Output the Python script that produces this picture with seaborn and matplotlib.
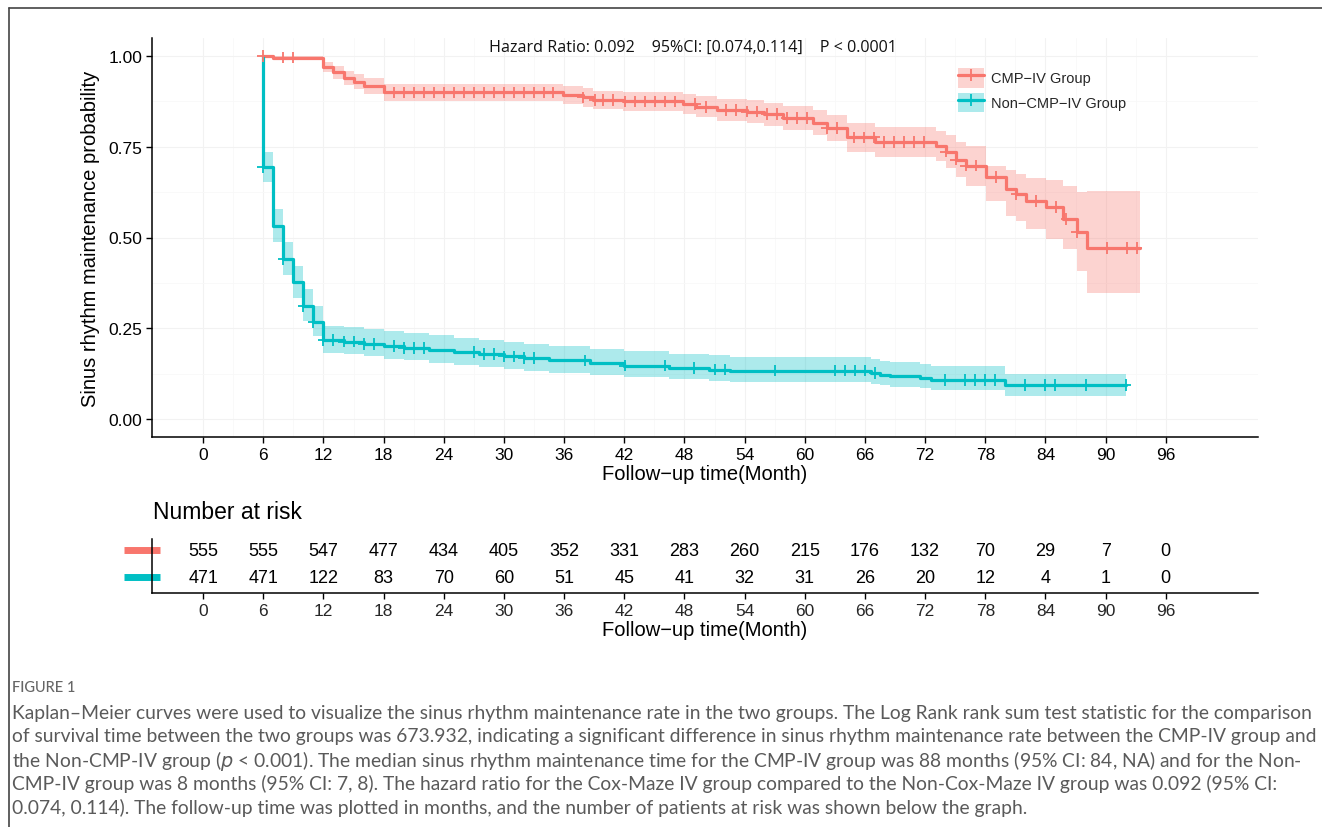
import numpy as np
import pandas as pd
import matplotlib
matplotlib.use("Agg")
import matplotlib.pyplot as plt
import seaborn as sns
from matplotlib.lines import Line2D
from matplotlib.patches import Patch

# ---------------- data ----------------
groups = ["CMP\u2212IV Group", "Non\u2212CMP\u2212IV Group"]
colors = ["#F8766D", "#00BFC4"]

cmp_time = [6, 7, 12, 13, 14, 15, 16, 18, 35.9, 37.9, 38.9, 41.9, 47.9, 49.2, 51.2, 54.2, 55.9,
            57.8, 60.8, 62.2, 64.2, 67.0, 73.1, 74.1, 75.1, 76.1, 78.1, 80.1, 81.1, 82.1, 84.1,
            85.8, 87.1, 88.1]
cmp_surv = [1.000, 0.996, 0.970, 0.955, 0.940, 0.930, 0.918, 0.900, 0.893, 0.886, 0.879, 0.875,
            0.868, 0.860, 0.851, 0.847, 0.840, 0.829, 0.817, 0.802, 0.776, 0.764, 0.752, 0.737,
            0.715, 0.698, 0.667, 0.634, 0.620, 0.601, 0.584, 0.551, 0.515, 0.471]
cmp_lower = [0.995, 0.990, 0.955, 0.938, 0.920, 0.909, 0.896, 0.877, 0.869, 0.861, 0.853, 0.848,
             0.840, 0.831, 0.821, 0.816, 0.808, 0.796, 0.782, 0.765, 0.737, 0.723, 0.710, 0.692,
             0.668, 0.643, 0.601, 0.560, 0.545, 0.523, 0.496, 0.468, 0.409, 0.347]
cmp_upper = [1.000, 1.000, 0.985, 0.972, 0.960, 0.951, 0.940, 0.923, 0.917, 0.911, 0.905, 0.902,
             0.896, 0.889, 0.881, 0.878, 0.872, 0.862, 0.852, 0.839, 0.817, 0.805, 0.794, 0.782,
             0.762, 0.753, 0.698, 0.685, 0.675, 0.665, 0.658, 0.643, 0.625, 0.628]
cmp_end = 93.4
cmp_censor = [6, 8, 9, 19, 20, 21, 22, 23, 24, 25, 26, 27, 28, 29, 30, 31, 32, 33, 34, 34.9,
              37.9, 39.1, 39.9, 40.9, 42.1, 43.1, 44.1, 45.1, 46.1, 47.1, 49.1, 50.1, 52.1, 53.1,
              54.2, 55.2, 56.2, 57.2, 58.2, 59.2, 60.2, 62.2, 63.2, 64.9, 65.9, 66.9, 67.9, 68.9,
              69.9, 70.9, 71.9, 74.1, 75.1, 76.1, 77.1, 79.1, 81.1, 83.1, 85.1, 86.1, 87.1, 90.1,
              92.1, 93.1]

non_time = [6, 6, 7, 8, 9, 10, 11, 12, 14, 16, 18, 20, 22.5, 25, 27.5, 30, 32, 34.5, 38.6, 42.0,
            46.5, 50.4, 52.5, 66.6, 67.5, 68.5, 71.5, 72.6, 80]
non_surv = [1.000, 0.694, 0.532, 0.441, 0.377, 0.312, 0.267, 0.218, 0.213, 0.207, 0.201, 0.196,
            0.190, 0.184, 0.178, 0.172, 0.167, 0.161, 0.154, 0.147, 0.140, 0.136, 0.133, 0.127,
            0.122, 0.118, 0.112, 0.107, 0.094]
non_lower = [1.000, 0.652, 0.488, 0.397, 0.334, 0.271, 0.229, 0.182, 0.178, 0.172, 0.166, 0.161,
             0.155, 0.149, 0.144, 0.138, 0.133, 0.127, 0.121, 0.115, 0.109, 0.105, 0.103, 0.097,
             0.093, 0.089, 0.084, 0.079, 0.062]
non_upper = [1.000, 0.737, 0.578, 0.488, 0.422, 0.357, 0.310, 0.257, 0.253, 0.247, 0.241, 0.236,
             0.230, 0.224, 0.218, 0.212, 0.206, 0.200, 0.193, 0.186, 0.179, 0.175, 0.171, 0.165,
             0.160, 0.156, 0.150, 0.147, 0.124]
non_end = 92
non_censor = [6, 8, 10, 11, 12, 13, 14, 15, 16, 17, 19, 20, 21, 22, 27, 28, 29, 30, 31, 32, 33,
              38.1, 42.1, 46.1, 49, 51, 52, 57, 63, 64, 65, 66, 67, 74, 76, 77, 78, 79, 82, 84,
              85, 88, 92]

risk_times = [0, 6, 12, 18, 24, 30, 36, 42, 48, 54, 60, 66, 72, 78, 84, 90, 96]
risk_cmp = [555, 555, 547, 477, 434, 405, 352, 331, 283, 260, 215, 176, 132, 70, 29, 7, 0]
risk_non = [471, 471, 122, 83, 70, 60, 51, 45, 41, 32, 31, 26, 20, 12, 4, 1, 0]
y_ticks = [0.0, 0.25, 0.50, 0.75, 1.00]
y_tick_labels = ["0.00", "0.25", "0.50", "0.75", "1.00"]

hr_text = "Hazard Ratio: 0.092    95%CI: [0.074,0.114]    P < 0.0001"
x_title = "Follow\u2212up time(Month)"
y_title = "Sinus rhythm maintenance probability"
risk_title = "Number at risk"
fig_label = "FIGURE 1"
caption_lines = [
    "Kaplan\u2013Meier curves were used to visualize the sinus rhythm maintenance rate in the two groups. The Log Rank rank sum test statistic for the comparison",
    "of survival time between the two groups was 673.932, indicating a significant difference in sinus rhythm maintenance rate between the CMP-IV group and",
    "the Non-CMP-IV group ($\\it{p}$ < 0.001). The median sinus rhythm maintenance time for the CMP-IV group was 88 months (95% CI: 84, NA) and for the Non-",
    "CMP-IV group was 8 months (95% CI: 7, 8). The hazard ratio for the Cox-Maze IV group compared to the Non-Cox-Maze IV group was 0.092 (95% CI:",
    "0.074, 0.114). The follow-up time was plotted in months, and the number of patients at risk was shown below the graph.",
]

# ---------------- figure ----------------
sns.set_theme(style="white")
plt.rcParams["font.family"] = ["Liberation Sans", "DejaVu Sans"]

W, H = 1322, 828
fig = plt.figure(figsize=(W / 100, H / 100), dpi=100)
fig.patch.set_facecolor("white")

ax = fig.add_axes([152 / W, 1 - 438 / H, 1106 / W, 399 / H])
ax.set_xlim(-5.1, 105.2)
ax.set_ylim(-0.05, 1.05)

# grid
for xt in risk_times:
    ax.axvline(xt, color="#f2f2f2", lw=0.8, zorder=0)
for xt in np.array(risk_times[:-1]) + 3:
    ax.axvline(xt, color="#f8f8f8", lw=0.6, zorder=0)
for yt in y_ticks:
    ax.axhline(yt, color="#f2f2f2", lw=0.8, zorder=0)
for yt in np.array(y_ticks[:-1]) + 0.125:
    ax.axhline(yt, color="#f8f8f8", lw=0.6, zorder=0)

series = [
    (groups[0], cmp_time, cmp_surv, cmp_lower, cmp_upper, cmp_end, cmp_censor),
    (groups[1], non_time, non_surv, non_lower, non_upper, non_end, non_censor),
]

line_rows = []
cens_rows = []
for (g, t, s, lo, hi, tend, cens), col in zip(series, colors):
    tt = list(t) + [tend]
    ss = list(s) + [s[-1]]
    ll = list(lo) + [lo[-1]]
    uu = list(hi) + [hi[-1]]
    ax.fill_between(tt, ll, uu, step="post", color=col, alpha=0.32, linewidth=0, zorder=1)
    for a, b in zip(tt, ss):
        line_rows.append({"time": a, "surv": b, "group": g})
    tarr = np.array(t)
    for c in cens:
        idx = np.searchsorted(tarr, c, side="right") - 1
        cens_rows.append({"time": c, "surv": s[idx], "group": g})

line_df = pd.DataFrame(line_rows)
cens_df = pd.DataFrame(cens_rows)

sns.lineplot(data=line_df, x="time", y="surv", hue="group", hue_order=groups, palette=colors,
             estimator=None, sort=False, drawstyle="steps-post", linewidth=2.3, legend=False,
             ax=ax, zorder=3)
sns.scatterplot(data=cens_df, x="time", y="surv", hue="group", hue_order=groups, palette=colors,
                marker="+", s=70, linewidth=1.3, legend=False, ax=ax, zorder=4)

ax.set_xticks(risk_times)
ax.set_xticklabels([str(v) for v in risk_times])
ax.set_yticks(y_ticks)
ax.set_yticklabels(y_tick_labels)
ax.tick_params(axis="both", direction="out", length=4, width=1, color="black",
               labelsize=12.5, labelcolor="black", pad=3, bottom=True, left=True)
for side in ["top", "right"]:
    ax.spines[side].set_visible(False)
for side in ["left", "bottom"]:
    ax.spines[side].set_color("black")
    ax.spines[side].set_linewidth(1.1)
ax.set_xlabel(x_title, fontsize=14.5, color="black", labelpad=2)
ax.set_ylabel(y_title, fontsize=14.5, color="black", labelpad=6)

# hazard ratio text
fig.text(693 / W, 1 - 48 / H, hr_text, ha="center", va="center", fontsize=11.6,
         family=["Open Sans", "DejaVu Sans"], color="#111111")

# legend
handles = []
for col in colors:
    p = Patch(facecolor=col, alpha=0.32, edgecolor="none")
    l = Line2D([], [], color=col, lw=2.3, marker="+", markersize=8, markeredgewidth=1.3)
    handles.append((p, l))
leg = ax.legend(handles, groups, loc="upper left", bbox_to_anchor=(952 / W, 1 - 63 / H),
                bbox_transform=fig.transFigure, frameon=False, fontsize=10.5,
                handlelength=1.8, handleheight=1.7, handletextpad=0.5, labelspacing=0.35,
                borderaxespad=0)

# ---------------- risk table ----------------
tax = fig.add_axes([152 / W, 1 - 594 / H, 1106 / W, 54 / H])
tax.set_xlim(-5.1, 105.2)
tax.set_ylim(0, 1)
tax.set_facecolor("none")
row_y = [0.796, 0.296]
for vals, ry in zip([risk_cmp, risk_non], row_y):
    for xt, n in zip(risk_times, vals):
        tax.text(xt, ry, str(n), ha="center", va="center", fontsize=13, color="black")
for col, ry in zip(colors, row_y):
    tax.add_line(Line2D([-0.0253, 0.0072], [ry, ry], transform=tax.transAxes, color=col,
                        lw=5, clip_on=False, solid_capstyle="butt"))
tax.set_xticks(risk_times)
tax.set_xticklabels([str(v) for v in risk_times])
tax.set_yticks([])
tax.tick_params(axis="x", direction="out", length=4, width=1, color="black", labelsize=12.5,
                pad=3, bottom=True)
for side in ["top", "right"]:
    tax.spines[side].set_visible(False)
for side in ["left", "bottom"]:
    tax.spines[side].set_color("black")
    tax.spines[side].set_linewidth(1.1)
tax.set_xlabel(x_title, fontsize=14.5, color="black", labelpad=2)
fig.text(153 / W, 1 - 513 / H, risk_title, ha="left", va="center", fontsize=16.5, color="black")

# ---------------- caption ----------------
cap_family = ["Lato", "DejaVu Sans"]
fig.text(12 / W, 1 - 688 / H, fig_label, ha="left", va="center", fontsize=10.5,
         family=cap_family, color="#666666", fontweight="medium")
cap_texts = []
for i, line in enumerate(caption_lines):
    cap_texts.append(fig.text(12 / W, 1 - (713 + 23.8 * i) / H, line, ha="left", va="center",
                              fontsize=12, family=cap_family, color="#5a5a5a"))
fig.canvas.draw()
renderer = fig.canvas.get_renderer()
wpx = cap_texts[0].get_window_extent(renderer).width
cap_size = 12 * 1296 / wpx
for txt in cap_texts:
    txt.set_fontsize(cap_size)

# figure border (top and left)
fig.add_artist(Line2D([9 / W, 9 / W], [0, 1 - 9 / H], transform=fig.transFigure,
                      color="#444444", lw=1.2))
fig.add_artist(Line2D([9 / W, 1], [1 - 9 / H, 1 - 9 / H], transform=fig.transFigure,
                      color="#444444", lw=1.2))

fig.savefig("out.png", dpi=100, facecolor="white")
